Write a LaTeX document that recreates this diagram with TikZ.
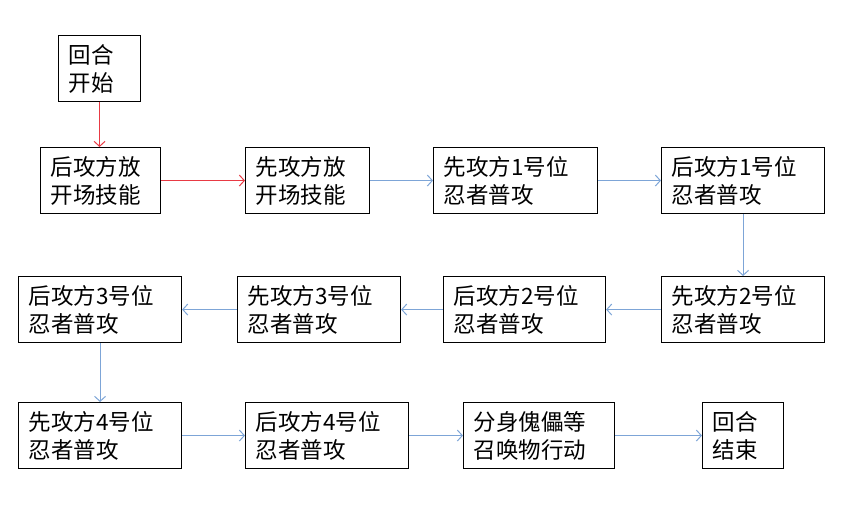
\documentclass[tikz,border=0pt]{standalone}
\usepackage{fontspec}
\newfontfamily\cjk{Noto Sans CJK SC}
\usetikzlibrary{arrows.meta}
\definecolor{flowred}{RGB}{232,58,68}
\definecolor{flowblue}{RGB}{125,165,215}

\begin{document}
\begin{tikzpicture}[x=1pt,y=-1pt,
  box/.style={draw,line width=1.1pt,anchor=north west,inner xsep=10pt,inner ysep=0pt,
    minimum height=66pt,align=left,font=\cjk\fontsize{22.5}{28}\selectfont},
  redarrow/.style={draw=flowred,line width=1pt,-{Straight Barb[length=5pt,width=11pt]}},
  bluearrow/.style={draw=flowblue,line width=1pt,-{Straight Barb[length=5pt,width=11pt]}}]
\useasboundingbox (0,0) rectangle (868,531);

% first row
\node[box,text width=62pt] (start) at (58,35) {回合\\开始};
\node[box,text width=100pt] (hou0) at (40,147) {后攻方放\\开场技能};
\node[box,text width=104pt] (xian0) at (245,147) {先攻方放\\开场技能};
\node[box,text width=144pt] (xian1) at (433,147) {先攻方1号位\\忍者普攻};
\node[box,text width=143pt] (hou1) at (661,147) {后攻方1号位\\忍者普攻};

% second row
\node[box,text width=143pt] (xian2) at (661,276) {先攻方2号位\\忍者普攻};
\node[box,text width=142pt] (hou2) at (443,276) {后攻方2号位\\忍者普攻};
\node[box,text width=143pt] (xian3) at (237,276) {先攻方3号位\\忍者普攻};
\node[box,text width=143pt] (hou3) at (18,276) {后攻方3号位\\忍者普攻};

% third row
\node[box,text width=143pt] (xian4) at (18,402) {先攻方4号位\\忍者普攻};
\node[box,text width=143pt] (hou4) at (245,402) {后攻方4号位\\忍者普攻};
\node[box,text width=131pt] (summon) at (463,402) {分身傀儡等\\召唤物行动};
\node[box,text width=61pt] (finish) at (702,402) {回合\\结束};

\draw[redarrow] (start) -- (start |- hou0.north);
\draw[redarrow] (hou0) -- (xian0);
\draw[bluearrow] (xian0) -- (xian1);
\draw[bluearrow] (xian1) -- (hou1);
\draw[bluearrow] (hou1) -- (xian2);
\draw[bluearrow] (xian2) -- (hou2);
\draw[bluearrow] (hou2) -- (xian3);
\draw[bluearrow] (xian3) -- (hou3);
\draw[bluearrow] (hou3) -- (xian4);
\draw[bluearrow] (xian4) -- (hou4);
\draw[bluearrow] (hou4) -- (summon);
\draw[bluearrow] (summon) -- (finish);
\end{tikzpicture}
\end{document}
